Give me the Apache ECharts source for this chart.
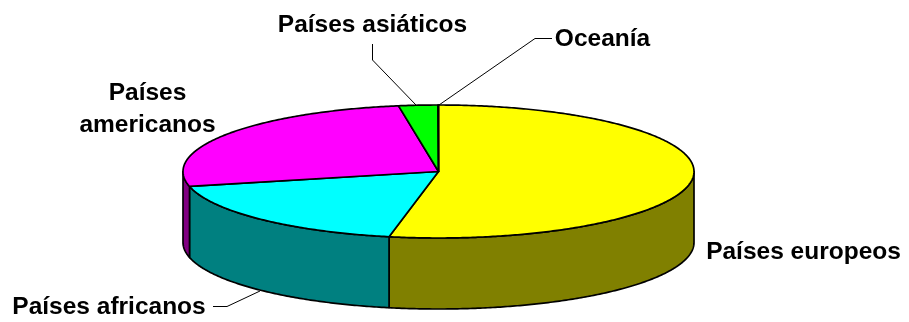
<!DOCTYPE html>
<html>
<head>
<meta charset="utf-8">
<style>html,body{margin:0;padding:0;background:#fff}#c{width:909px;height:322px}</style>
<script src="https://cdn.jsdelivr.net/npm/echarts@6/dist/echarts.min.js"></script>
</head>
<body>
<div id="c"></div>
<script>
const categories = ['Países europeos', 'Países africanos', 'Países americanos', 'Países asiáticos', 'Oceanía'];
const shares = [53.1, 18.3, 26.1, 2.47, 0.03];
const topColors = ['#ffff00', '#00ffff', '#ff00ff', '#00ff00', '#0000ff'];
const sideColors = ['#808000', '#008080', '#800080', '#008000', '#000080'];

const CX = 438.5, CY = 171.5, RX = 255.5, RY = 66.5, DEPTH = 71;
const labelBoxes = [
  { x: 803.5, y: 252, text: 'Países europeos' },
  { x: 109, y: 307, text: 'Países africanos' },
  { x: 147.5, y: 109, text: 'Países\namericanos' },
  { x: 372.5, y: 25, text: 'Países asiáticos' },
  { x: 602.5, y: 39, text: 'Oceanía' }
];
const leaders = [
  null,
  [[213, 306.5], [227, 306.5], [260, 291]],
  null,
  [[372.5, 44], [372.5, 60], [416, 105]],
  [[552, 38.5], [535, 38.5], [439, 105]]
];

const total = shares.reduce((a, b) => a + b, 0);
const starts = [];
shares.reduce((acc, v, i) => { starts[i] = acc; return acc + v; }, 0);
const toAngle = v => v / total * Math.PI * 2;
const pt = (a, dy) => [CX + RX * Math.sin(a), CY - RY * Math.cos(a) + (dy || 0)];
function arc(a0, a1, dy) {
  const n = Math.max(2, Math.ceil(Math.abs(a1 - a0) / 0.01));
  const out = [];
  for (let i = 0; i <= n; i++) out.push(pt(a0 + (a1 - a0) * i / n, dy));
  return out;
}

function renderItem(params, api) {
  const i = params.dataIndex;
  const a0 = toAngle(starts[i]);
  const a1 = toAngle(starts[i] + shares[i]);
  const children = [];
  const stroke = { stroke: '#000', lineWidth: 1.7, lineJoin: 'round' };

  const s0 = Math.max(a0, Math.PI / 2);
  const s1 = Math.min(a1, Math.PI * 1.5);
  if (s1 > s0) {
    const points = arc(s0, s1, 0).concat(arc(s1, s0, DEPTH));
    children.push({
      type: 'polygon',
      shape: { points },
      style: Object.assign({ fill: sideColors[i] }, stroke)
    });
  }
  children.push({
    type: 'polygon',
    shape: { points: [[CX, CY]].concat(arc(a0, a1, 0)) },
    style: Object.assign({ fill: topColors[i] }, stroke)
  });
  if (leaders[i]) {
    children.push({
      type: 'polyline',
      shape: { points: leaders[i] },
      style: { stroke: '#000', lineWidth: 1, fill: null }
    });
  }
  const lb = labelBoxes[i];
  children.push({
    type: 'text',
    x: lb.x,
    y: lb.y,
    style: {
      text: lb.text,
      fill: '#000',
      font: 'bold 24.5px "Liberation Sans", Arial, sans-serif',
      lineHeight: 32,
      align: 'center',
      verticalAlign: 'middle'
    }
  });
  return { type: 'group', children };
}

const chart = echarts.init(document.getElementById('c'), null, { renderer: 'canvas' });
chart.setOption({
  animation: false,
  backgroundColor: '#ffffff',
  series: [{
    type: 'custom',
    coordinateSystem: 'none',
    renderItem,
    data: categories.map((name, i) => ({ name, value: shares[i] }))
  }]
});
</script>
</body>
</html>
